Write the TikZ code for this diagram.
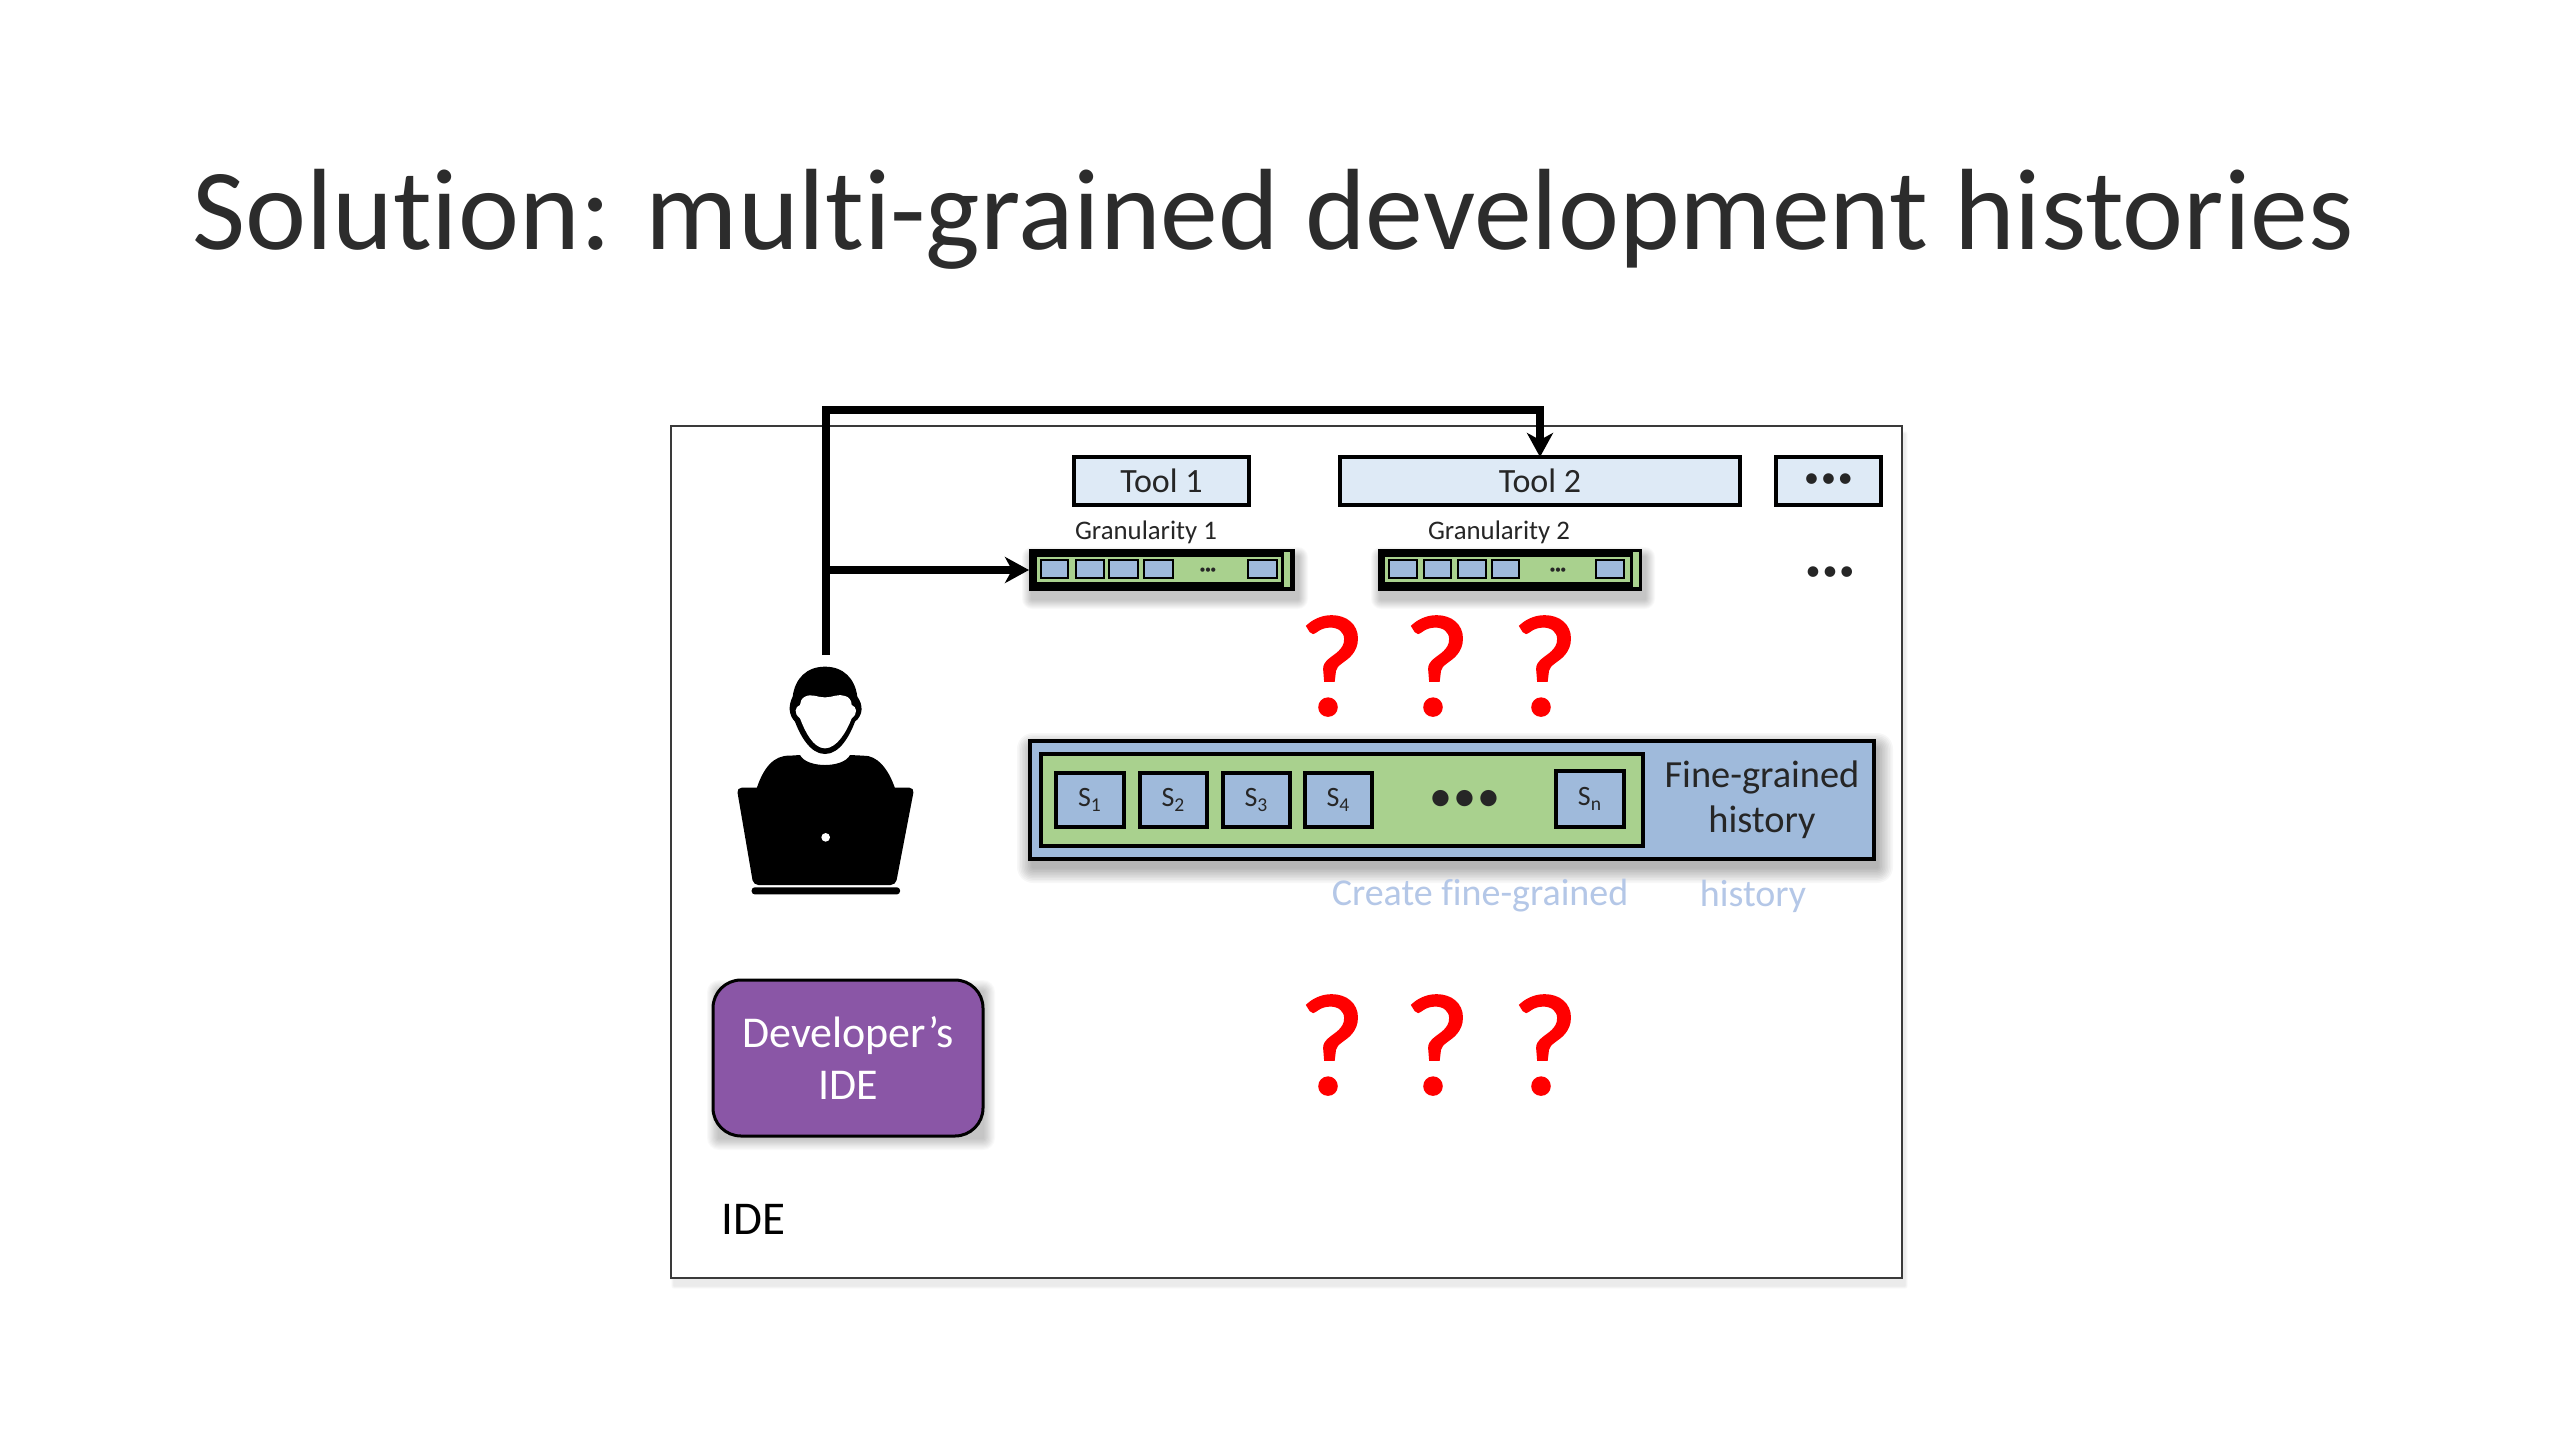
\documentclass[tikz,border=0pt]{standalone}
\usepackage{fontspec}
\setmainfont[Ligatures=NoCommon]{Carlito}
\newfontfamily\qfont[FakeBold=1.6]{Carlito}
\usetikzlibrary{arrows.meta,calc}
\definecolor{toolblue}{HTML}{DEEAF6}
\definecolor{midblue}{HTML}{9FBADB}
\definecolor{midgreen}{HTML}{A9D18E}
\definecolor{idepurple}{HTML}{8A56A6}
\definecolor{paleblue}{HTML}{B4C7E7}
\definecolor{framegrey}{HTML}{3A3A3A}
\definecolor{inktext}{HTML}{262626}
\definecolor{titleink}{HTML}{2C2C2C}
\newcommand{\fs}[1]{\fontsize{#1}{#1}\selectfont}
\newcommand{\softshadow}[6]{% x1 y1 x2 y2 spread opacity
  \foreach \sh in {1,...,10}{
    \pgfmathsetmacro{\grow}{#5*(11-\sh)/10}
    \fill[black,opacity=#6,rounded corners=\grow*0.5pt]
      (#1-\grow+3,#2-\grow+8) rectangle (#3+\grow+3,#4+\grow+8);
  }
}
\newcommand{\threedots}[2]{{\fs{#1}•\hspace{#2}•\hspace{#2}•}}
\tikzset{
  boxbase/.style={inner sep=0pt,outer sep=0pt,align=center,text=inktext},
  toolbox/.style={draw=black,line width=1.7pt,fill=toolblue,font=\fs{17}},
  smallsq/.style={draw=black,line width=1.4pt,fill=midblue},
  stepsq/.style={draw=black,line width=1.8pt,fill=midblue,font=\fs{14}},
  heavy/.style={draw=black,line width=4pt},
  heavyarrow/.style={heavy,-{Stealth[length=12pt,width=13pt,inset=3.5pt]}},
  qmark/.style={text=red,font=\qfont\fs{72},inner sep=0pt},
  label/.style={inner sep=0pt,text=inktext},
}
\begin{document}
\begin{tikzpicture}[x=0.5pt,y=-0.5pt]
\useasboundingbox (0,0) rectangle (2560,1440);
\fill[white] (0,0) rectangle (2560,1440);

\node[label,font=\fs{57.8},text=titleink] (title) at (1273,219) {Solution: multi-grained development histories};

% IDE frame
\softshadow{671}{426}{1902}{1278}{3}{0.006}
\node[draw=framegrey,line width=1.3pt,fill=white,inner sep=0pt,minimum width=615.5pt,minimum height=426pt] (ide) at (1286.5,852) {};

% tools
\node[boxbase,toolbox,minimum width=87.5pt,minimum height=24pt] (tool1) at (1161.5,481) {Tool 1};
\node[boxbase,toolbox,minimum width=200pt,minimum height=24pt] (tool2) at (1540,481) {Tool 2};
\node[boxbase,toolbox,minimum width=52.5pt,minimum height=24pt] (toolmore) at (1828.5,481) {\raisebox{-4.5pt}{\threedots{15}{1pt}}};

\node[label,font=\fs{13.4}] (gran1) at (1146,532) {Granularity 1};
\node[label,font=\fs{13.4}] (gran2) at (1499,532) {Granularity 2};

% granularity bar 1
\softshadow{1029}{549}{1295}{591}{10}{0.025}
\node[boxbase,fill=black,minimum width=133pt,minimum height=21pt] (bar1) at (1162,570) {};
\node[boxbase,fill=midgreen,minimum width=122pt,minimum height=12.5pt] (bar1g) at (1159,569) {};
\node[boxbase,fill=midgreen,minimum width=3pt,minimum height=17.5pt] (bar1s) at (1287,569.5) {};
\node[boxbase,smallsq,minimum width=13.5pt,minimum height=9pt] (b1a) at (1054.5,569) {};
\node[boxbase,smallsq,minimum width=14pt,minimum height=9pt] (b1b) at (1090,569) {};
\node[boxbase,smallsq,minimum width=14.5pt,minimum height=9pt] (b1c) at (1123.5,569) {};
\node[boxbase,smallsq,minimum width=14.5pt,minimum height=9pt] (b1d) at (1158.5,569) {};
\node[boxbase,smallsq,minimum width=14.5pt,minimum height=9pt] (b1e) at (1262.5,569) {};
\node[label,font=\fs{6}] (b1dots) at (1208,571) {•\hspace{-.3pt}•\hspace{-.3pt}•};

% granularity bar 2
\softshadow{1378}{549}{1642}{591}{10}{0.025}
\node[boxbase,fill=black,minimum width=132pt,minimum height=21pt] (bar2) at (1510,570) {};
\node[boxbase,fill=midgreen,minimum width=122.5pt,minimum height=12.5pt] (bar2g) at (1507.5,569) {};
\node[boxbase,fill=midgreen,minimum width=3pt,minimum height=17.5pt] (bar2s) at (1636,569.5) {};
\node[boxbase,smallsq,minimum width=14pt,minimum height=9pt] (b2a) at (1403,569) {};
\node[boxbase,smallsq,minimum width=13.5pt,minimum height=9pt] (b2b) at (1437.5,569) {};
\node[boxbase,smallsq,minimum width=14pt,minimum height=9pt] (b2c) at (1472,569) {};
\node[boxbase,smallsq,minimum width=13.5pt,minimum height=9pt] (b2d) at (1505.5,569) {};
\node[boxbase,smallsq,minimum width=14pt,minimum height=9pt] (b2e) at (1610,569) {};
\node[label,font=\fs{6}] (b2dots) at (1558,571) {•\hspace{-.3pt}•\hspace{-.3pt}•};

\node[label] (moredots) at (1830,574) {\threedots{15}{1pt}};

% question marks
\node[qmark] (q1) at (1332,666) {?};
\node[qmark] (q2) at (1437,666) {?};
\node[qmark] (q3) at (1545,666) {?};
\node[qmark] (q4) at (1332,1045) {?};
\node[qmark] (q5) at (1437,1045) {?};
\node[qmark] (q6) at (1545,1045) {?};

% fine-grained history
\softshadow{1030}{741}{1874}{859}{16}{0.03}
\node[boxbase,draw=black,line width=2pt,fill=midblue,minimum width=422pt,minimum height=59pt] (fine) at (1452,800) {};
\node[boxbase,draw=black,line width=2pt,fill=midgreen,minimum width=301pt,minimum height=46pt] (finegreen) at (1342,800) {};
\node[boxbase,stepsq,minimum width=34pt,minimum height=27pt] (s1) at (1090,800) {S\textsubscript{1}};
\node[boxbase,stepsq,minimum width=33.5pt,minimum height=27pt] (s2) at (1173.5,800) {S\textsubscript{2}};
\node[boxbase,stepsq,minimum width=33.5pt,minimum height=27pt] (s3) at (1256.5,800) {S\textsubscript{3}};
\node[boxbase,stepsq,minimum width=33.5pt,minimum height=27pt] (s4) at (1338.5,800) {S\textsubscript{4}};
\node[boxbase,stepsq,minimum width=34pt,minimum height=28pt] (sn) at (1590,799) {S\textsubscript{n}};
\node[label] (finedots) at (1465,801) {\threedots{23}{.5pt}};
\node[label,font=\fs{19.2},align=center] (finelabel) at (1762,800) {Fine-grained\\[3.5pt]history};

\node[label,font=\fs{19},text=paleblue] (create) at (1480,896) {Create fine-grained};
\node[label,font=\fs{19},text=paleblue] (createh) at (1753,896) {history};

% developer's IDE
\softshadow{716}{984}{980}{1130}{12}{0.022}
\node[draw=black,line width=1.5pt,fill=idepurple,rounded corners=14pt,inner sep=0pt,minimum width=135pt,minimum height=78pt,align=center,text=white,font=\fs{22}] (devide) at (848,1058) {Developer’s\\[4pt]IDE};
\node[label,font=\fs{23.5},text=black,anchor=west] (idelabel) at (721,1219) {IDE};

% connectors
\coordinate (devtop) at (826,655);
\coordinate (cornerA) at (826,410);
\coordinate (branch) at (826,570);
\draw[heavyarrow,line join=miter] (devtop) -- (cornerA) -| (tool2.north);
\draw[heavyarrow] (branch) -- (bar1.west);

% developer at laptop
\begin{scope}[shift={(700,640)},x=0.16667pt,y=-0.16667pt]
  \fill[black] (375,80) .. controls (320,80) and (285,115) .. (278,170) .. controls (265,195) and (265,225) .. (285,245) .. controls (300,285) and (330,342) .. (375,342) .. controls (420,342) and (450,285) .. (465,245) .. controls (490,225) and (490,195) .. (472,170) .. controls (465,115) and (430,80) .. (375,80) -- cycle;
  \fill[white] (375,172) .. controls (350,172) and (335,160) .. (315,170) .. controls (305,175) and (300,185) .. (300,195) .. controls (285,200) and (280,220) .. (300,235) .. controls (315,275) and (340,325) .. (375,325) .. controls (410,325) and (440,275) .. (455,235) .. controls (475,220) and (470,200) .. (455,195) .. controls (455,180) and (445,170) .. (435,168) .. controls (415,160) and (400,172) .. (375,172) -- cycle;
  \fill[black] (170,445) .. controls (190,385) and (220,345) .. (270,347) -- (300,345) .. controls (320,385) and (430,385) .. (450,345) -- (490,347) .. controls (530,345) and (565,385) .. (585,445) -- cycle;
  \fill[black,rounded corners=2.5pt] (110,443) -- (643,443) -- (587,735) -- (160,735) -- cycle;
  \fill[black,rounded corners=1.5pt] (155,742) rectangle (600,763);
  \fill[white] (377,592) circle (13);
\end{scope}
\end{tikzpicture}
\end{document}
